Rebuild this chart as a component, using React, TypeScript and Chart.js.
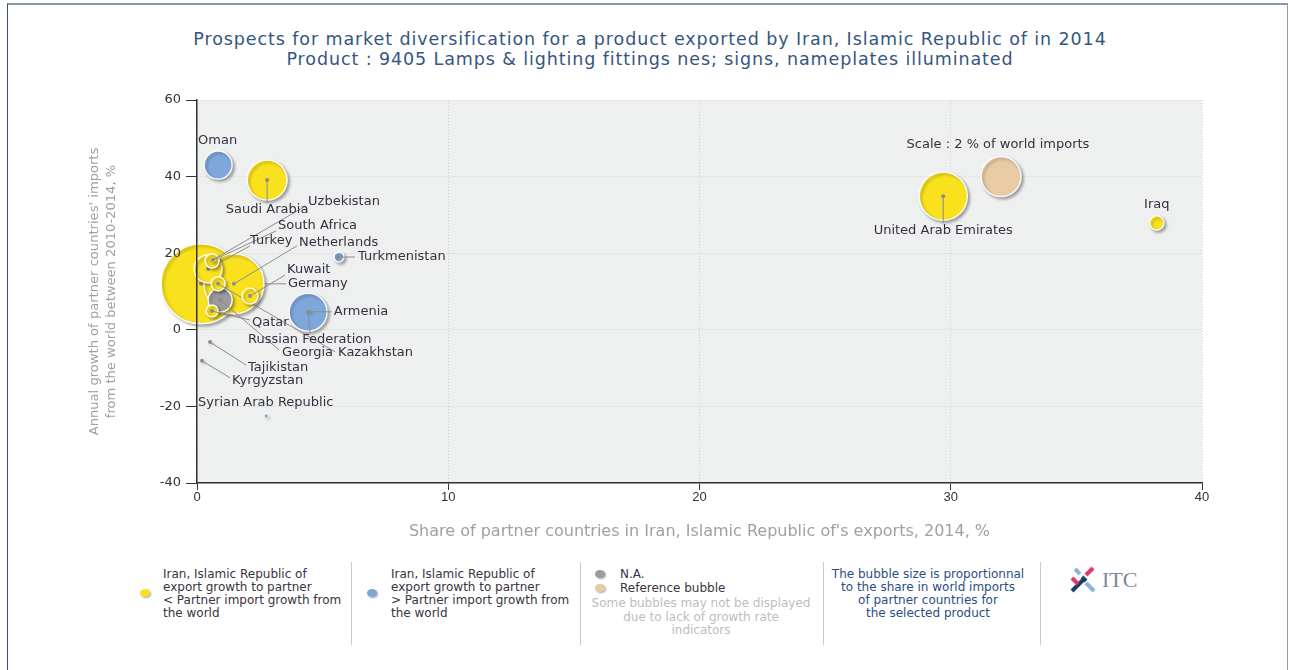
import React, { useEffect, useRef } from 'react';
import { Chart, registerables } from 'chart.js';

Chart.register(...registerables);

// ---------------- DATA ----------------
// Drawing order: first entries are drawn first (underneath)
const COUNTRIES = [
  'United Arab Emirates', 'Iraq', 'Saudi Arabia', 'Oman', 'Turkmenistan',
  'Germany', 'Netherlands', 'Russian Federation', 'Turkey', 'Georgia',
  'South Africa', 'Uzbekistan', 'Kazakhstan', 'Kuwait', 'Qatar',
  'Armenia', 'Tajikistan', 'Kyrgyzstan', 'Syrian Arab Republic',
];
// Share of partner countries in Iran's exports, 2014, %
const EXPORT_SHARE = [
  29.7, 38.2, 2.79, 0.84, 5.65,
  0.16, 1.47, 4.42, 0.44, 0.92,
  0.6, 0.64, 0.84, 2.11, 0.6,
  4.45, 0.52, 0.2, 2.75,
];
// Annual growth of partner countries' imports from the world 2010-2014, %
const IMPORT_GROWTH = [
  34.9, 27.9, 39.1, 43.0, 19.0,
  12.0, 12.0, 4.6, 15.9, 7.8,
  18.0, 18.3, 12.0, 8.8, 4.9,
  4.7, -3.2, -8.1, -22.5,
];
// Share of partner in world imports, % (bubble size)
const WORLD_IMPORT_SHARE = [
  2.9, 0.25, 2.0, 0.98, 0.12,
  8.0, 4.5, 1.8, 0.98, 0.72,
  0.25, 0.04, 0.25, 0.32, 0.18,
  0.01, 0.01, 0.01, 0.01,
];
// below: Iran export growth < partner import growth; above: >; na: N.A.
const GROWTH_GROUP = [
  'below', 'below', 'below', 'above', 'above',
  'below', 'below', 'above', 'below', 'na',
  'below', 'below', 'below', 'below', 'below',
  'above', 'below', 'below', 'above',
];

const REFERENCE_LABEL = 'Scale : 2 % of world imports';
const REFERENCE_X = 32;
const REFERENCE_Y = 40;
const REFERENCE_SHARE = 2;

const X_MIN = 0, X_MAX = 40, X_STEP = 10;
const Y_MIN = -40, Y_MAX = 60, Y_STEP = 20;

const TITLE_LINES = [
  'Prospects for market diversification for a product exported by Iran, Islamic Republic of in 2014',
  'Product : 9405 Lamps & lighting fittings nes; signs, nameplates illuminated',
];
const X_TITLE = "Share of partner countries in Iran, Islamic Republic of's exports, 2014, %";
const Y_TITLE = ["Annual growth of partner countries' imports", 'from the world between 2010-2014, %'];

// ---------------- STYLE / LAYOUT ----------------
const GROUP_COLORS: Record<string, string> = {
  below: '#f9e11e',
  above: '#7ea7db',
  na: '#9b9b9b',
  ref: '#e9cba6',
};
const REF_RADIUS_PX = 20;
const radiusFor = (share: number) => REF_RADIUS_PX * Math.sqrt(share / REFERENCE_SHARE);

type LabelLayout = { dx: number; dy: number; align?: CanvasTextAlign; line?: [number, number] };
const LABEL_LAYOUT: Record<string, LabelLayout> = {
  [REFERENCE_LABEL]: { dx: -3, dy: -32, align: 'center' },
  'United Arab Emirates': { dx: 0, dy: 34, align: 'center', line: [0, 27] },
  'Iraq': { dx: 0, dy: -18, align: 'center' },
  'Saudi Arabia': { dx: 0, dy: 30, align: 'center', line: [0, 23] },
  'Oman': { dx: -20, dy: -24 },
  'Turkmenistan': { dx: 19, dy: 0, line: [16, 0] },
  'Germany': { dx: 87, dy: 0, line: [85, 0] },
  'Netherlands': { dx: 65, dy: -41, line: [63, -38] },
  'Russian Federation': { dx: -60, dy: 27, line: [2, 21] },
  'Turkey': { dx: 42, dy: -28, line: [42, -23] },
  'Georgia': { dx: 62, dy: 53, line: [59, 50] },
  'South Africa': { dx: 66, dy: -35, line: [64, -30] },
  'Uzbekistan': { dx: 95, dy: -58, line: [93, -54] },
  'Kazakhstan': { dx: 120, dy: 69, line: [117, 68] },
  'Kuwait': { dx: 37, dy: -26, line: [35, -21] },
  'Qatar': { dx: 40, dy: 12, line: [38, 9] },
  'Armenia': { dx: 25, dy: 0, line: [23, 0] },
  'Tajikistan': { dx: 38, dy: 26, line: [36, 23] },
  'Kyrgyzstan': { dx: 30, dy: 20, line: [28, 17] },
  'Syrian Arab Republic': { dx: -68, dy: -13 },
};

const decorPlugin = {
  id: 'bubbleDecor',
  beforeDraw(chart: any) {
    const { ctx, chartArea: a } = chart;
    ctx.save();
    ctx.fillStyle = '#eeefef';
    ctx.fillRect(a.left, a.top, a.right - a.left, a.bottom - a.top);
    ctx.restore();
  },
  beforeDatasetDraw(chart: any) {
    const ctx = chart.ctx;
    ctx.save();
    ctx.shadowColor = 'rgba(0,0,0,0.32)';
    ctx.shadowBlur = 3;
    ctx.shadowOffsetX = 2;
    ctx.shadowOffsetY = 2;
  },
  afterDatasetDraw(chart: any, args: any) {
    const ctx = chart.ctx;
    ctx.restore();
    const ds = chart.data.datasets[args.index];
    const lay = LABEL_LAYOUT[ds.label];
    const el = args.meta.data[0];
    if (!lay || !lay.line || !el) return;
    ctx.save();
    ctx.strokeStyle = '#8c8c8c';
    ctx.lineWidth = 1;
    ctx.beginPath();
    ctx.moveTo(el.x, el.y);
    ctx.lineTo(el.x + lay.line[0], el.y + lay.line[1]);
    ctx.stroke();
    ctx.fillStyle = '#8c8c8c';
    ctx.beginPath();
    ctx.arc(el.x, el.y, 2, 0, Math.PI * 2);
    ctx.fill();
    ctx.restore();
  },
  afterDatasetsDraw(chart: any) {
    const ctx = chart.ctx;
    ctx.save();
    ctx.font = '13px "DejaVu Sans", sans-serif';
    ctx.textBaseline = 'middle';
    ctx.fillStyle = '#363040';
    chart.data.datasets.forEach((ds: any, i: number) => {
      const lay = LABEL_LAYOUT[ds.label];
      const el = chart.getDatasetMeta(i).data[0];
      if (!lay || !el) return;
      ctx.textAlign = lay.align || 'left';
      ctx.fillText(ds.label, el.x + lay.dx, el.y + lay.dy);
    });
    ctx.restore();
  },
};

function buildDatasets() {
  const items = [
    { label: REFERENCE_LABEL, x: REFERENCE_X, y: REFERENCE_Y, share: REFERENCE_SHARE, group: 'ref' },
    ...COUNTRIES.map((c, i) => ({
      label: c, x: EXPORT_SHARE[i], y: IMPORT_GROWTH[i], share: WORLD_IMPORT_SHARE[i], group: GROWTH_GROUP[i],
    })),
  ];
  const n = items.length;
  return items.map((it, i) => ({
    type: 'bubble' as const,
    label: it.label,
    data: [{ x: it.x, y: it.y, r: Math.max(1.4, radiusFor(it.share)) }],
    backgroundColor: GROUP_COLORS[it.group],
    borderColor: 'rgba(255,255,255,0.9)',
    borderWidth: it.share < 0.05 ? 0 : 1.5,
    clip: false as any,
    order: n - i,
  }));
}

const legendBase: React.CSSProperties = {
  position: 'absolute',
  fontFamily: '"DejaVu Sans", sans-serif',
  fontSize: 12,
  lineHeight: '13px',
  color: '#3a3342',
  whiteSpace: 'nowrap',
};

const dot = (left: number, top: number, color: string): React.CSSProperties => ({
  position: 'absolute', left, top, width: 10, height: 8, borderRadius: '50%',
  background: color, boxShadow: '1px 1px 2px rgba(0,0,0,0.35)',
});

const sep = (left: number): React.CSSProperties => ({
  position: 'absolute', left, top: 562, width: 1, height: 83, background: '#c9c9c9',
});

export default function App() {
  const canvasRef = useRef<HTMLCanvasElement | null>(null);

  useEffect(() => {
    if (!canvasRef.current) return;
    const tickFont = { family: '"DejaVu Sans", sans-serif', size: 13 };
    const chart = new Chart(canvasRef.current, {
      type: 'bubble',
      data: { datasets: buildDatasets() as any },
      options: {
        animation: false,
        responsive: true,
        maintainAspectRatio: false,
        devicePixelRatio: 1,
        layout: { padding: { top: 100, left: 0, right: 88, bottom: 0 } },
        plugins: { legend: { display: false }, tooltip: { enabled: false }, title: { display: false } },
        scales: {
          x: {
            type: 'linear',
            min: X_MIN, max: X_MAX,
            ticks: {
              stepSize: X_STEP, color: '#333', padding: 0, maxRotation: 0,
              font: { family: '"Liberation Sans Narrow", "Liberation Sans", sans-serif', size: 13 },
            },
            grid: { color: '#d2d2d2', lineWidth: 1, tickColor: '#333', tickLength: 7, tickWidth: 1 },
            border: { display: true, color: '#333', width: 1.5, dash: [1, 2], z: 1 },
            title: {
              display: true, text: X_TITLE, color: '#a0a0a0',
              font: { family: '"DejaVu Sans", sans-serif', size: 16, lineHeight: 1.2 },
              padding: { top: 0, bottom: 18.4 },
            },
            afterFit: (s: any) => { s.height = 77; },
          },
          y: {
            type: 'linear',
            min: Y_MIN, max: Y_MAX,
            ticks: { stepSize: Y_STEP, color: '#333', padding: 5, font: tickFont, z: 1 },
            grid: { color: '#d2d2d2', lineWidth: 1, tickColor: '#333', tickLength: 11, tickWidth: 1 },
            border: { display: true, color: '#333', width: 1.5, dash: [1, 2], z: 1 },
            title: {
              display: true, text: Y_TITLE, color: '#a0a0a0',
              font: { family: '"DejaVu Sans", sans-serif', size: 13.1, lineHeight: 17 / 13.1 },
              padding: { top: 86.5, bottom: 0 },
            },
            afterFit: (s: any) => { s.width = 197; },
          },
        },
      } as any,
      plugins: [decorPlugin as any],
    });
    return () => chart.destroy();
  }, []);

  return (
    <div style={{ position: 'fixed', left: 0, top: 0, width: 1290, height: 670, background: '#fff', overflow: 'hidden' }}>
      {/* frame */}
      <div style={{
        position: 'absolute', left: 7, top: 3, width: 1279, height: 720,
        borderTop: '2px solid #8796ad', borderLeft: '1px solid #3d4f70', borderRight: '1px solid #8e9cb1',
      }} />
      {/* title */}
      <div style={{
        position: 'absolute', left: 0, top: 30, width: 1300, textAlign: 'center',
        fontFamily: '"DejaVu Sans", sans-serif', fontSize: 17.5, letterSpacing: '0.9px',
        lineHeight: '19.5px', color: '#35567f',
      }}>
        {TITLE_LINES.map((t) => <div key={t}>{t}</div>)}
      </div>
      {/* chart */}
      <div style={{ position: 'absolute', left: 0, top: 0, width: 1290, height: 560 }}>
        <canvas ref={canvasRef} />
      </div>
      {/* legend */}
      <div style={dot(140, 589, GROUP_COLORS.below)} />
      <div style={{ ...legendBase, left: 163, top: 567.5 }}>
        <div>Iran, Islamic Republic of</div>
        <div>export growth to partner</div>
        <div>&lt; Partner import growth from</div>
        <div>the world</div>
      </div>
      <div style={sep(351)} />
      <div style={dot(367, 589, GROUP_COLORS.above)} />
      <div style={{ ...legendBase, left: 391, top: 567.5 }}>
        <div>Iran, Islamic Republic of</div>
        <div>export growth to partner</div>
        <div>&gt; Partner import growth from</div>
        <div>the world</div>
      </div>
      <div style={sep(580)} />
      <div style={dot(595, 570, GROUP_COLORS.na)} />
      <div style={{ ...legendBase, left: 620, top: 567.5 }}>N.A.</div>
      <div style={dot(595, 584, GROUP_COLORS.ref)} />
      <div style={{ ...legendBase, left: 620, top: 581.5 }}>Reference bubble</div>
      <div style={{ ...legendBase, left: 581, width: 240, top: 597, textAlign: 'center', color: '#bdbdbd', lineHeight: '13.5px' }}>
        <div>Some bubbles may not be displayed</div>
        <div>due to lack of growth rate</div>
        <div>indicators</div>
      </div>
      <div style={sep(823)} />
      <div style={{ ...legendBase, left: 820, width: 216, top: 567.5, textAlign: 'center', color: '#2c4e80' }}>
        <div>The bubble size is proportionnal</div>
        <div>to the share in world imports</div>
        <div>of partner countries for</div>
        <div>the selected product</div>
      </div>
      <div style={sep(1040)} />
      {/* ITC logo */}
      <svg width="30" height="28" viewBox="0 0 30 28" style={{ position: 'absolute', left: 1069, top: 566 }}>
        <g strokeWidth="4" strokeLinecap="butt" fill="none">
          <line x1="6" y1="3" x2="11" y2="8" stroke="#8ab4dc" />
          <line x1="17" y1="9" x2="24" y2="2" stroke="#e5366e" />
          <line x1="3" y1="25" x2="15" y2="13" stroke="#1f3a6b" />
          <line x1="3" y1="12" x2="9" y2="18" stroke="#e5366e" />
          <line x1="13" y1="11" x2="17" y2="15" stroke="#1f3a6b" />
          <line x1="17" y1="17" x2="25" y2="25" stroke="#8ab4dc" />
        </g>
      </svg>
      <div style={{
        position: 'absolute', left: 1102, top: 567, fontFamily: '"Liberation Serif", serif',
        fontSize: 22, lineHeight: '26px', color: '#7b8a99',
      }}>ITC</div>
    </div>
  );
}
